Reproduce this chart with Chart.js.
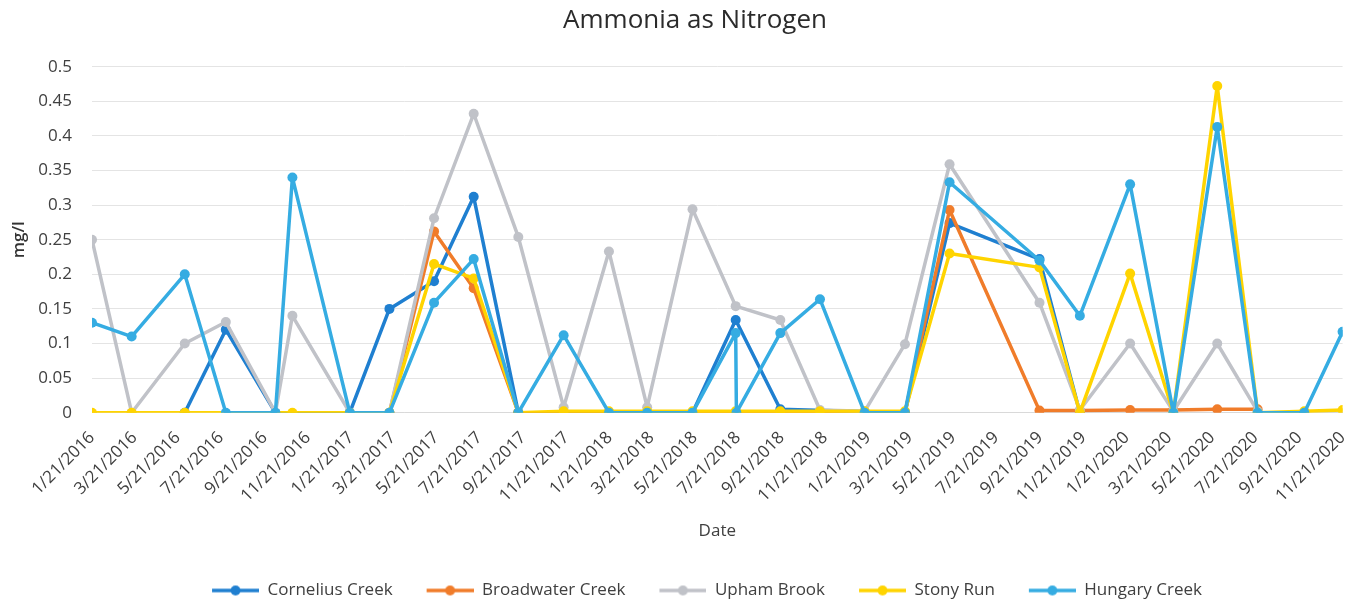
<!DOCTYPE html>
<html>
<head>
<meta charset="utf-8">
<title>Ammonia as Nitrogen</title>
<script src="https://cdn.jsdelivr.net/npm/chart.js@4.4.1/dist/chart.umd.min.js"></script>
<style>
    html, body { margin: 0; padding: 0; background: #ffffff; }
    canvas { display: block; }
</style>
</head>
<body>
<canvas id="graficaAmonia" width="1372" height="603"></canvas>
<script>
// sampling dates (m/d/yyyy)
var fechas = ['1/21/2016', '3/17/2016', '5/31/2016', '7/28/2016', '10/6/2016', '10/30/2016',
    '1/19/2017', '3/16/2017', '5/18/2017', '7/13/2017', '9/14/2017', '11/17/2017',
    '1/20/2018', '3/15/2018', '5/18/2018', '7/18/2018', '7/19/2018', '9/19/2018', '11/14/2018',
    '1/16/2019', '3/14/2019', '5/16/2019', '9/20/2019', '11/16/2019',
    '1/26/2020', '3/27/2020', '5/28/2020', '7/24/2020', '9/28/2020', '11/21/2020'];

// axis labels, every two months
var etiquetasEje = ['1/21/2016', '3/21/2016', '5/21/2016', '7/21/2016', '9/21/2016', '11/21/2016',
    '1/21/2017', '3/21/2017', '5/21/2017', '7/21/2017', '9/21/2017', '11/21/2017',
    '1/21/2018', '3/21/2018', '5/21/2018', '7/21/2018', '9/21/2018', '11/21/2018',
    '1/21/2019', '3/21/2019', '5/21/2019', '7/21/2019', '9/21/2019', '11/21/2019',
    '1/21/2020', '3/21/2020', '5/21/2020', '7/21/2020', '9/21/2020', '11/21/2020'];

var cornelius = [null, null, 0, 0.12, 0, null, 0, 0.15, 0.19, 0.312, 0, null, null, null, 0, 0.134, null, 0.005, null,
    null, 0, 0.274, 0.222, 0, null, null, null, null, null, null];
var broadwater = [null, null, null, null, null, null, null, 0, 0.262, 0.18, 0, null, null, null, null, null, null, null, null,
    null, 0, 0.293, 0.003, 0.003, 0.004, 0.004, 0.005, 0.005, null, null];
var upham = [0.25, 0, 0.1, 0.131, 0, 0.14, 0, 0, 0.281, 0.432, 0.254, 0.008, 0.233, 0.008, 0.294, 0.154, null, 0.134, 0.004,
    0.002, 0.099, 0.359, 0.159, 0.004, 0.1, 0.002, 0.1, 0.002, null, null];
var stonyRun = [0, 0, 0, null, null, 0, 0, 0, 0.215, 0.194, 0, 0.002, 0.002, 0.002, 0.002, 0.002, null, 0.002, 0.002,
    0.002, 0.002, 0.23, 0.21, 0, 0.201, 0, 0.472, 0, 0.002, 0.004];
var hungary = [0.13, 0.11, 0.2, 0, 0, 0.34, 0, 0, 0.159, 0.222, 0, 0.112, 0, 0, 0, 0.115, 0, 0.115, 0.164,
    0, 0, 0.333, 0.22, 0.14, 0.33, 0, 0.413, 0, 0, 0.117];

var nombres = ['Cornelius Creek', 'Broadwater Creek', 'Upham Brook', 'Stony Run', 'Hungary Creek'];
var colores = ['#1f7fd0', '#f07c2a', '#c0c2c8', '#ffd400', '#35ace2'];

function dia(texto) {
    var p = texto.split('/').map(Number);
    return Date.UTC(p[2], p[0] - 1, p[1]) / 86400000;
}

function serie(i, valores) {
    return {
        label: nombres[i],
        data: fechas.map(function (f, k) { return { x: dia(f), y: valores[k] }; }),
        borderColor: colores[i],
        backgroundColor: colores[i],
        pointBackgroundColor: colores[i],
        pointBorderColor: colores[i],
        borderWidth: 3.5,
        borderJoinStyle: 'round',
        borderCapStyle: 'round',
        pointRadius: 5,
        pointBorderWidth: 0,
        spanGaps: true,
        fill: false,
        order: 5 - i
    };
}

// line with a dot, like the Excel legend
function marcador(color) {
    var c = document.createElement('canvas');
    c.width = 71;
    c.height = 12;
    var ctx = c.getContext('2d');
    ctx.strokeStyle = color;
    ctx.lineWidth = 3.5;
    ctx.beginPath();
    ctx.moveTo(24, 6);
    ctx.lineTo(71, 6);
    ctx.stroke();
    ctx.fillStyle = color;
    ctx.beginPath();
    ctx.arc(47.5, 6, 5, 0, Math.PI * 2);
    ctx.fill();
    return c;
}

var fuente = 'Open Sans';

window.onload = function () {
    new Chart(document.getElementById('graficaAmonia'), {
        type: 'line',
        data: {
            datasets: [
                serie(0, cornelius),
                serie(1, broadwater),
                serie(2, upham),
                serie(3, stonyRun),
                serie(4, hungary)
            ]
        },
        options: {
            responsive: false,
            animation: false,
            layout: { padding: { left: 34, right: 16, top: 0, bottom: -6 } },
            plugins: {
                title: {
                    display: true,
                    text: 'Ammonia as Nitrogen',
                    color: '#2b2b2b',
                    font: { family: fuente, size: 26, weight: 'normal' },
                    padding: { top: 5, bottom: 30.5 }
                },
                legend: {
                    position: 'bottom',
                    labels: {
                        usePointStyle: true,
                        pointStyleWidth: 71,
                        padding: 10,
                        color: '#404040',
                        font: { family: fuente, size: 17 },
                        sort: function (a, b) { return a.datasetIndex - b.datasetIndex; },
                        generateLabels: function (chart) {
                            var items = Chart.defaults.plugins.legend.labels.generateLabels(chart);
                            items.forEach(function (it) { it.pointStyle = marcador(colores[it.datasetIndex]); });
                            return items;
                        }
                    }
                },
                tooltip: { enabled: false }
            },
            scales: {
                x: {
                    type: 'linear',
                    min: dia(etiquetasEje[0]),
                    max: dia(etiquetasEje[etiquetasEje.length - 1]),
                    grid: { display: false, drawTicks: false },
                    border: { display: true, color: '#d9d9d9' },
                    afterBuildTicks: function (eje) {
                        eje.ticks = etiquetasEje.map(function (e) { return { value: dia(e) }; });
                    },
                    afterFit: function (eje) { eje.height = 159.3; },
                    ticks: {
                        autoSkip: false,
                        minRotation: 45,
                        maxRotation: 45,
                        padding: 15,
                        color: '#404040',
                        font: { family: fuente, size: 17 },
                        callback: function (v, i) { return etiquetasEje[i]; }
                    },
                    title: {
                        display: true,
                        text: 'Date',
                        color: '#404040',
                        font: { family: fuente, size: 17 },
                        padding: { top: 0, bottom: 31 }
                    }
                },
                y: {
                    min: 0,
                    max: 0.5,
                    grid: { color: '#e4e4e4', drawTicks: false },
                    border: { display: false },
                    afterFit: function (eje) { eje.width = 58; },
                    ticks: {
                        stepSize: 0.05,
                        padding: 20,
                        color: '#404040',
                        font: { family: fuente, size: 17 },
                        callback: function (v) { return String(+v.toFixed(2)); }
                    },
                    title: {
                        display: true,
                        text: 'mg/l',
                        color: '#333333',
                        font: { family: fuente, size: 17, weight: '600' },
                        padding: { top: -25, bottom: 0 }
                    }
                }
            }
        }
    });
};
</script>
</body>
</html>
